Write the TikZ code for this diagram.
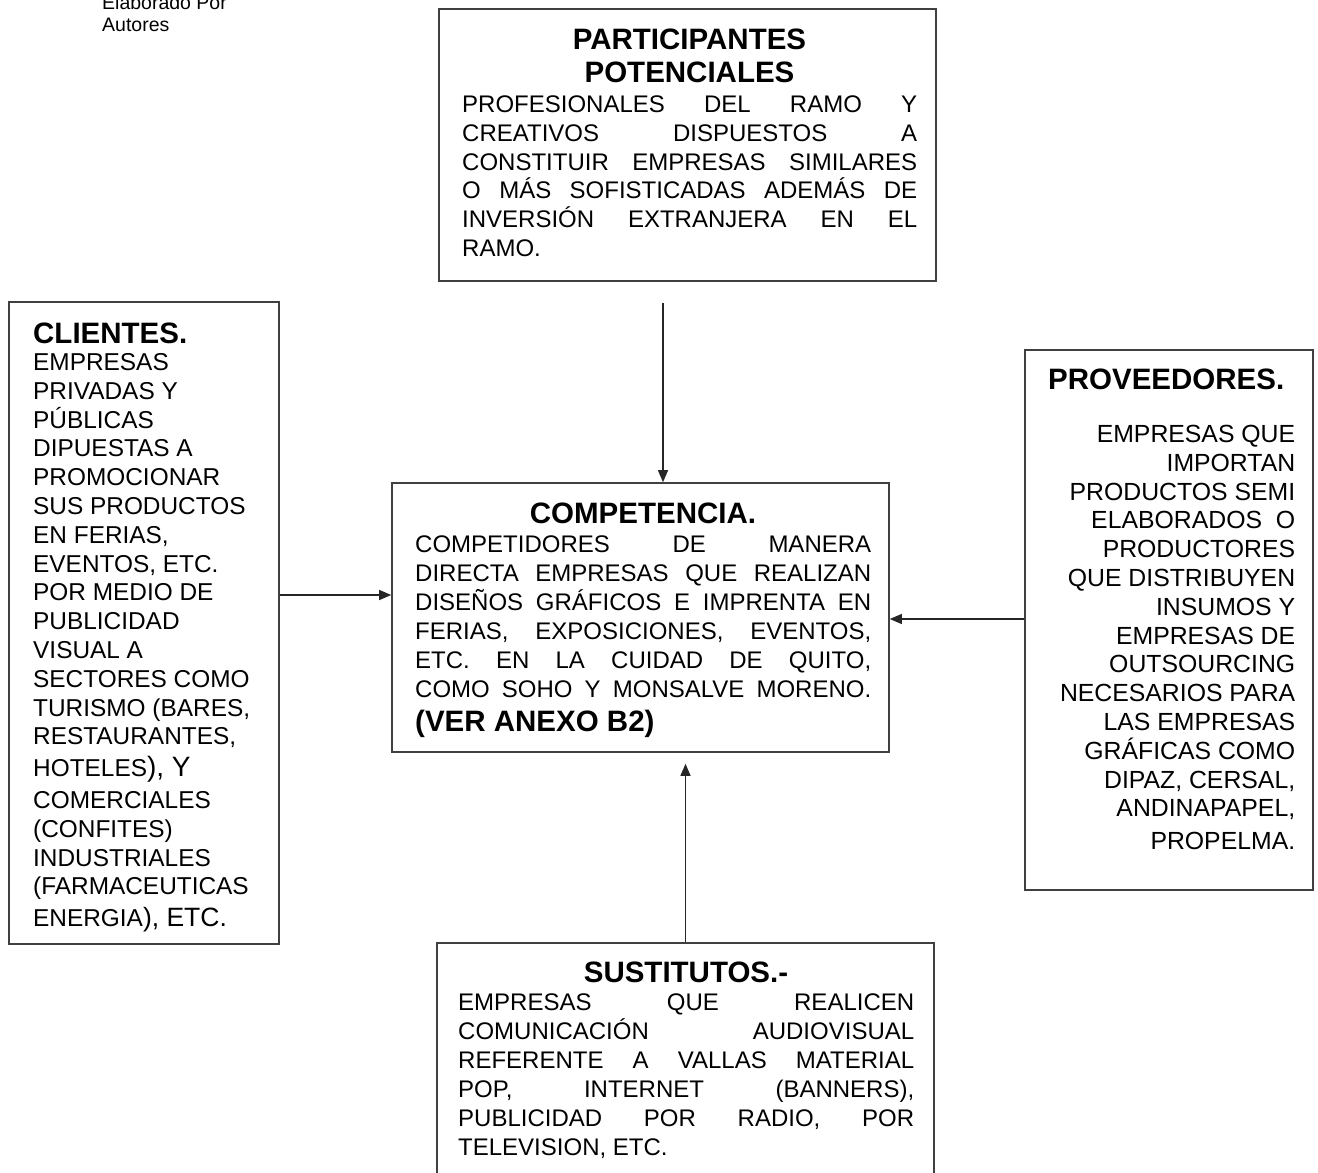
\documentclass[tikz,border=0pt]{standalone}
\usepackage{fontspec}
\setmainfont{Liberation Sans}
\usetikzlibrary{arrows.meta}

% one line of text per command, stacked inside a \vtop
\newcommand\jline[1]{\hbox{\makebox[\hsize][s]{#1}}}
\newcommand\lline[1]{\hbox{#1}}
\newcommand\rline[1]{\hbox to\hsize{\hfill#1}}

\tikzset{
  box/.style={draw=black!75, line width=1.6pt, fill=none, inner sep=0pt},
  head/.style={font=\bfseries\fontsize{29.5}{34}\selectfont, inner sep=0pt, anchor=base},
  body/.style={font=\fontsize{24}{#1}\selectfont, inner sep=0pt, anchor=base west},
  body/.default=28.8pt,
  arr/.style={draw=black!85, line width=1.2pt, -{Triangle[length=12pt,width=10pt]}},
}

\begin{document}
\begin{tikzpicture}[x=1pt,y=-1pt]
\clip (0,0) rectangle (1318,1173);
\fill[white] (0,0) rectangle (1318,1173);
\lineskiplimit=-100pt

% source note
\node[anchor=base west, inner sep=0pt, font=\fontsize{19.5}{22}\selectfont] (src) at (102,9)
  {\vtop{\hbox{Elaborado Por}\hbox{Autores}}};

% boxes
\node[box, minimum width=497pt, minimum height=272pt] (pp) at (687.5,145) {};
\node[box, minimum width=270pt, minimum height=642pt] (cl) at (144,623) {};
\node[box, minimum width=288pt, minimum height=540pt] (pr) at (1169,620) {};
\node[box, minimum width=497pt, minimum height=269pt] (co) at (640.5,617.5) {};
\node[box, minimum width=497pt, minimum height=260pt] (su) at (685.5,1073) {};

% participantes potenciales
\node[head] (ppH1) at (689.5,49.5) {PARTICIPANTES};
\node[head] (ppH2) at (689.5,82.5) {POTENCIALES};
\node[body] (ppT) at (462,112.5) {\vtop{\hsize=455pt
  \jline{PROFESIONALES DEL RAMO Y}
  \jline{CREATIVOS DISPUESTOS A}
  \jline{CONSTITUIR EMPRESAS SIMILARES}
  \jline{O MÁS SOFISTICADAS ADEMÁS DE}
  \jline{INVERSIÓN EXTRANJERA EN EL}
  \lline{RAMO.}}};

% clientes
\node[head, anchor=base west] (clH) at (33,343.5) {CLIENTES.};
\node[body, font=\fontsize{24.4}{28.8}\selectfont] (clT) at (33,370.5) {\vtop{\hsize=240pt
  \lline{EMPRESAS}
  \lline{PRIVADAS Y}
  \lline{PÚBLICAS}
  \lline{DIPUESTAS A}
  \lline{PROMOCIONAR}
  \lline{SUS PRODUCTOS}
  \lline{EN FERIAS,}
  \lline{EVENTOS, ETC.}
  \lline{POR MEDIO DE}
  \lline{PUBLICIDAD}
  \lline{VISUAL A}
  \lline{SECTORES COMO}
  \lline{TURISMO (BARES,}
  \lline{RESTAURANTES,}
  \vskip2.8pt
  \lline{HOTELES{\fontsize{28}{28.8}\selectfont), Y}}
  \vskip3.2pt
  \lline{COMERCIALES}
  \lline{(CONFITES)}
  \lline{INDUSTRIALES}
  \lline{(FARMACEUTICAS}
  \vskip2.8pt
  \lline{ENERGIA{\fontsize{26.5}{28.8}\selectfont), ETC.}}}};

% proveedores
\node[head, anchor=base west] (prH) at (1048,389.5) {PROVEEDORES.};
\node[body, font=\fontsize{24.8}{28.8}\selectfont] (prT) at (1045,442.5) {\vtop{\hsize=250pt
  \rline{EMPRESAS QUE}
  \rline{IMPORTAN}
  \rline{PRODUCTOS SEMI}
  \rline{ELABORADOS\ \ O}
  \rline{PRODUCTORES}
  \rline{QUE DISTRIBUYEN}
  \rline{INSUMOS Y}
  \rline{EMPRESAS DE}
  \rline{OUTSOURCING}
  \rline{NECESARIOS PARA}
  \rline{LAS EMPRESAS}
  \rline{GRÁFICAS COMO}
  \rline{DIPAZ, CERSAL,}
  \rline{ANDINAPAPEL,}
  \vskip3.8pt
  \rline{PROPELMA.}}};

% competencia
\node[head] (coH) at (643,523.5) {COMPETENCIA.};
\node[body=29pt] (coT) at (415,552.5) {\vtop{\hsize=456pt
  \jline{COMPETIDORES DE MANERA}
  \jline{DIRECTA EMPRESAS QUE REALIZAN}
  \jline{DISEÑOS GRÁFICOS E IMPRENTA EN}
  \jline{FERIAS, EXPOSICIONES, EVENTOS,}
  \jline{ETC. EN LA CUIDAD DE QUITO,}
  \jline{COMO SOHO Y MONSALVE MORENO.}
  \vskip5pt
  \lline{\bfseries\fontsize{29.5}{29}\selectfont (VER ANEXO B2)}}};

% sustitutos
\node[head] (suH) at (686,982.5) {SUSTITUTOS.-};
\node[body=29pt] (suT) at (458,1010.5) {\vtop{\hsize=456pt
  \jline{EMPRESAS QUE REALICEN}
  \jline{COMUNICACIÓN AUDIOVISUAL}
  \jline{REFERENTE A VALLAS MATERIAL}
  \jline{POP, INTERNET (BANNERS),}
  \jline{PUBLICIDAD POR RADIO, POR}
  \lline{TELEVISION, ETC.}}};

% forces acting on the competition
\draw[arr, shorten <=21pt] ([xshift=-24.5pt]pp.south) -- ([xshift=-24.5pt]pp.south |- co.north);
\draw[arr] ([yshift=28pt]cl.east) -- ([yshift=28pt]cl.east -| co.west);
\draw[arr] ([yshift=1pt]pr.west) -- ([yshift=1pt]pr.west -| co.east);
\draw[arr, shorten >=11pt] (su.north) -- (su.north |- co.south);
\end{tikzpicture}
\end{document}
